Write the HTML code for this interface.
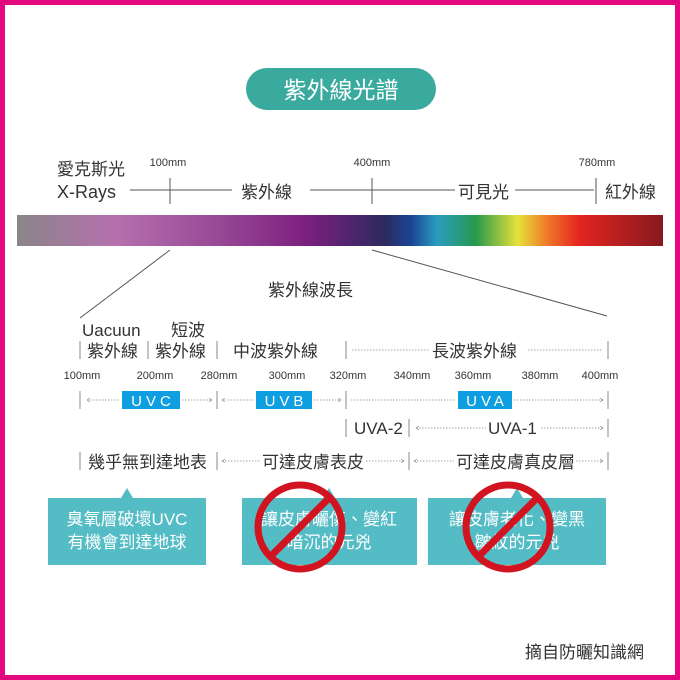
<!DOCTYPE html><html><head><meta charset="utf-8"><style>body{margin:0}svg{display:block}text{font-family:"Liberation Sans","Noto Sans CJK TC",sans-serif}</style></head><body>
<svg width="680" height="680" viewBox="0 0 680 680" xmlns="http://www.w3.org/2000/svg">
<defs><linearGradient id="g" x1="0" x2="1"><stop offset="0" stop-color="#8a8589"/><stop offset=".15" stop-color="#b571ad"/><stop offset=".3" stop-color="#9a4c98"/><stop offset=".45" stop-color="#7b1f7e"/><stop offset=".57" stop-color="#2c2a5e"/><stop offset=".61" stop-color="#1b4597"/><stop offset=".65" stop-color="#2a9bbf"/><stop offset=".71" stop-color="#27984c"/><stop offset=".775" stop-color="#e6e23a"/><stop offset=".82" stop-color="#ef7a28"/><stop offset=".87" stop-color="#e32521"/><stop offset="1" stop-color="#86191f"/></linearGradient>
<marker id="a" markerWidth="5" markerHeight="5" refX="4" refY="2.5" orient="auto"><path d="M0,0L4,2.5L0,5" fill="none" stroke="#888" stroke-width=".8"/></marker>
<marker id="b" markerWidth="5" markerHeight="5" refX="1" refY="2.5" orient="auto"><path d="M5,0L1,2.5L5,5" fill="none" stroke="#888" stroke-width=".8"/></marker></defs>
<rect x="2.5" y="2.5" width="675" height="675" fill="#fff" stroke="#e4087f" stroke-width="5"/>
<rect x="246" y="68" width="190" height="42" rx="21" fill="#3aaa9e"/>
<text x="341" y="98" font-size="23" fill="#fff" text-anchor="middle">紫外線光譜</text>
<g fill="#333" font-size="17"><text x="57" y="175">愛克斯光</text><text x="57" y="198" font-size="18">X-Rays</text>
<text x="241" y="198">紫外線</text><text x="458" y="198">可見光</text><text x="605" y="198">紅外線</text></g>
<g font-size="11" fill="#333" text-anchor="middle"><text x="168" y="166">100mm</text><text x="372" y="166">400mm</text><text x="597" y="166">780mm</text></g>
<g stroke="#555" stroke-width="1"><line x1="130" y1="190" x2="232" y2="190"/><line x1="310" y1="190" x2="455" y2="190"/><line x1="515" y1="190" x2="594" y2="190"/>
<line x1="170" y1="178" x2="170" y2="204"/><line x1="372" y1="178" x2="372" y2="204"/><line x1="596" y1="178" x2="596" y2="204"/>
<line x1="170" y1="250" x2="80" y2="318"/><line x1="372" y1="250" x2="607" y2="316"/></g>
<rect x="17" y="215" width="646" height="31" fill="url(#g)"/>
<g fill="#333" font-size="17"><text x="268" y="296">紫外線波長</text><text x="82" y="336">Uacuun</text><text x="171" y="336">短波</text>
<text x="87" y="357">紫外線</text><text x="155" y="357">紫外線</text><text x="233" y="357">中波紫外線</text><text x="432" y="357">長波紫外線</text>
<text x="354" y="434">UVA-2</text><text x="488" y="434">UVA-1</text>
<text x="88" y="468">幾乎無到達地表</text><text x="262" y="468">可達皮膚表皮</text><text x="456" y="468">可達皮膚真皮層</text></g>
<g stroke="#888" stroke-width="1">
<line x1="80" y1="341" x2="80" y2="359"/><line x1="148" y1="341" x2="148" y2="359"/><line x1="217" y1="341" x2="217" y2="359"/><line x1="346" y1="341" x2="346" y2="359"/><line x1="608" y1="341" x2="608" y2="359"/>
<line x1="80" y1="391" x2="80" y2="409"/><line x1="217" y1="391" x2="217" y2="409"/><line x1="346" y1="391" x2="346" y2="409"/><line x1="608" y1="391" x2="608" y2="409"/>
<line x1="346" y1="419" x2="346" y2="437"/><line x1="409" y1="419" x2="409" y2="437"/><line x1="608" y1="419" x2="608" y2="437"/>
<line x1="80" y1="452" x2="80" y2="470"/><line x1="217" y1="452" x2="217" y2="470"/><line x1="409" y1="452" x2="409" y2="470"/><line x1="608" y1="452" x2="608" y2="470"/></g>
<g stroke="#888" stroke-width=".8" stroke-dasharray="1.5 1.5" fill="none">
<line x1="352" y1="350" x2="430" y2="350"/><line x1="528" y1="350" x2="603" y2="350"/>
<line x1="87" y1="400" x2="120" y2="400" marker-start="url(#b)"/><line x1="182" y1="400" x2="212" y2="400" marker-end="url(#a)"/>
<line x1="222" y1="400" x2="254" y2="400" marker-start="url(#b)"/><line x1="314" y1="400" x2="341" y2="400" marker-end="url(#a)"/>
<line x1="351" y1="400" x2="456" y2="400"/><line x1="514" y1="400" x2="603" y2="400" marker-end="url(#a)"/>
<line x1="416" y1="428" x2="486" y2="428" marker-start="url(#b)"/><line x1="541" y1="428" x2="603" y2="428" marker-end="url(#a)"/>
<line x1="222" y1="461" x2="260" y2="461" marker-start="url(#b)"/><line x1="366" y1="461" x2="404" y2="461" marker-end="url(#a)"/>
<line x1="414" y1="461" x2="454" y2="461" marker-start="url(#b)"/><line x1="576" y1="461" x2="603" y2="461" marker-end="url(#a)"/></g>
<g font-size="11" fill="#333" text-anchor="middle"><text x="82" y="379">100mm</text><text x="155" y="379">200mm</text><text x="219" y="379">280mm</text><text x="287" y="379">300mm</text><text x="348" y="379">320mm</text><text x="412" y="379">340mm</text><text x="473" y="379">360mm</text><text x="540" y="379">380mm</text><text x="600" y="379">400mm</text></g>
<g fill="#0f9ee0"><rect x="122" y="391" width="58" height="18"/><rect x="256" y="391" width="56" height="18"/><rect x="458" y="391" width="54" height="18"/></g>
<g fill="#fff" font-size="15" text-anchor="middle" letter-spacing="4"><text x="153" y="406">UVC</text><text x="286" y="406">UVB</text><text x="487" y="406">UVA</text></g>
<g fill="#53bcc5"><rect x="48" y="498" width="158" height="67"/><path d="M121,498L127,488L133,498Z"/>
<rect x="242" y="498" width="175" height="67"/><path d="M323,498L329,488L335,498Z"/>
<rect x="428" y="498" width="178" height="67"/><path d="M511,498L517,488L523,498Z"/></g>
<g fill="#fff" font-size="17" text-anchor="middle"><text x="127" y="525">臭氧層破壞UVC</text><text x="127" y="548">有機會到達地球</text>
<text x="329" y="525">讓皮膚曬傷、變紅</text><text x="329" y="548">暗沉的元兇</text>
<text x="517" y="525">讓皮膚老化、變黑</text><text x="517" y="548">皺紋的元兇</text></g>
<g stroke="#d1141f" stroke-width="7" fill="none"><circle cx="300" cy="527" r="42"/><line x1="270" y1="557" x2="330" y2="497"/>
<circle cx="508" cy="527" r="42"/><line x1="478" y1="557" x2="538" y2="497"/></g>
<text x="525" y="658" font-size="17" fill="#333">摘自防曬知識網</text>
</svg></body></html>
